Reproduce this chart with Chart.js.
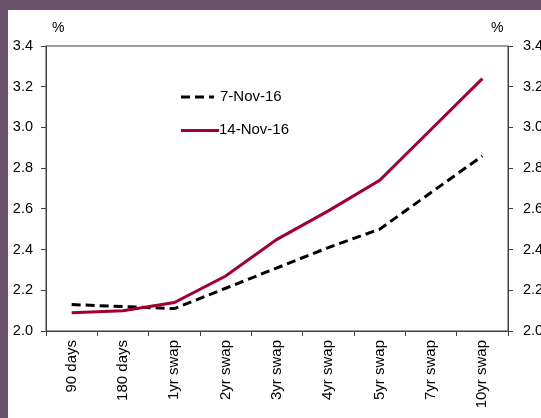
<!DOCTYPE html>
<html>
<head>
<meta charset="utf-8">
<script src="https://cdn.jsdelivr.net/npm/chart.js@4.4.1/dist/chart.umd.min.js"></script>
<style>
  html, body { margin: 0; padding: 0; }
  body { width: 541px; height: 418px; background: #6b536b; position: relative; overflow: hidden; }
  #wrap { position: absolute; left: 8px; top: 10px; width: 533px; height: 408px; background: #fff; }
</style>
</head>
<body>
<div id="wrap"><canvas id="curve"></canvas></div>
<script>
const tenors = ['90 days', '180 days', '1yr swap', '2yr swap', '3yr swap', '4yr swap', '5yr swap', '7yr swap', '10yr swap'];
const nov7 = [2.13, 2.12, 2.11, 2.21, 2.31, 2.41, 2.50, 2.68, 2.86];
const nov14 = [2.09, 2.10, 2.14, 2.27, 2.45, 2.59, 2.74, 2.99, 3.24];
const seriesNames = ['7-Nov-16', '14-Nov-16'];
const yTicks = [2.0, 2.2, 2.4, 2.6, 2.8, 3.0, 3.2, 3.4];

const axisColor = '#404040';
const redColor = '#a3002f';
const fontFamily = "'Liberation Sans', Arial, sans-serif";

// frame around the plot, % labels and the inline legend
const extras = {
    id: 'extras',
    afterDraw(chart) {
        const ctx = chart.ctx;
        const a = chart.chartArea;
        ctx.save();
        ctx.strokeStyle = axisColor;
        ctx.lineWidth = 1;
        ctx.strokeRect(a.left, a.top, a.right - a.left, a.bottom - a.top);

        ctx.fillStyle = '#000';
        ctx.font = '14px ' + fontFamily;
        ctx.textBaseline = 'middle';
        ctx.textAlign = 'left';
        ctx.fillText('%', 44, 18);
        ctx.fillText('%', 483, 18);

        // legend
        ctx.font = '15px ' + fontFamily;
        ctx.lineWidth = 3;
        ctx.strokeStyle = '#000';
        ctx.setLineDash([9, 5]);
        ctx.beginPath();
        ctx.moveTo(173, 87);
        ctx.lineTo(206, 87);
        ctx.stroke();
        ctx.setLineDash([]);
        ctx.strokeStyle = redColor;
        ctx.beginPath();
        ctx.moveTo(173, 120.5);
        ctx.lineTo(211, 120.5);
        ctx.stroke();
        ctx.fillText(seriesNames[0], 212, 87);
        ctx.fillText(seriesNames[1], 211, 120);
        ctx.restore();
    }
};

new Chart(document.getElementById('curve'), {
    type: 'line',
    data: {
        labels: tenors,
        datasets: [
            {
                label: seriesNames[0],
                data: nov7,
                borderColor: '#000',
                borderWidth: 3,
                borderDash: [9, 5],
                pointRadius: 0,
                tension: 0,
                order: 2
            },
            {
                label: seriesNames[1],
                data: nov14,
                borderColor: redColor,
                borderWidth: 3,
                pointRadius: 0,
                tension: 0,
                order: 1
            }
        ]
    },
    options: {
        responsive: true,
        maintainAspectRatio: false,
        animation: false,
        layout: { padding: { top: 36, left: 0, right: 0, bottom: 0 } },
        scales: {
            x: {
                offset: true,
                grid: {
                    offset: true,
                    drawOnChartArea: false,
                    drawTicks: true,
                    tickLength: 5,
                    color: axisColor
                },
                border: { color: axisColor, width: 1 },
                ticks: {
                    color: '#000',
                    minRotation: 90,
                    maxRotation: 90,
                    padding: 4,
                    font: { size: 15, family: fontFamily }
                },
                afterFit: (scale) => { scale.height = 87; }
            },
            y: {
                position: 'left',
                min: 2.0,
                max: 3.4,
                afterBuildTicks: (scale) => { scale.ticks = yTicks.map(v => ({ value: v })); },
                grid: { drawOnChartArea: false, tickLength: 5, color: axisColor },
                border: { color: axisColor, width: 1 },
                ticks: {
                    color: '#000',
                    padding: 8,
                    font: { size: 14.5, family: fontFamily },
                    callback: (v) => Number(v).toFixed(1)
                },
                afterFit: (scale) => { scale.width = 38; }
            },
            y2: {
                position: 'right',
                min: 2.0,
                max: 3.4,
                afterBuildTicks: (scale) => { scale.ticks = yTicks.map(v => ({ value: v })); },
                grid: { drawOnChartArea: false, tickLength: 5, color: axisColor },
                border: { color: axisColor, width: 1 },
                ticks: {
                    color: '#000',
                    padding: 10,
                    font: { size: 14.5, family: fontFamily },
                    callback: (v) => Number(v).toFixed(1)
                },
                afterFit: (scale) => { scale.width = 33; }
            }
        },
        plugins: {
            legend: { display: false },
            tooltip: { enabled: false }
        }
    },
    plugins: [extras]
});
</script>
</body>
</html>
